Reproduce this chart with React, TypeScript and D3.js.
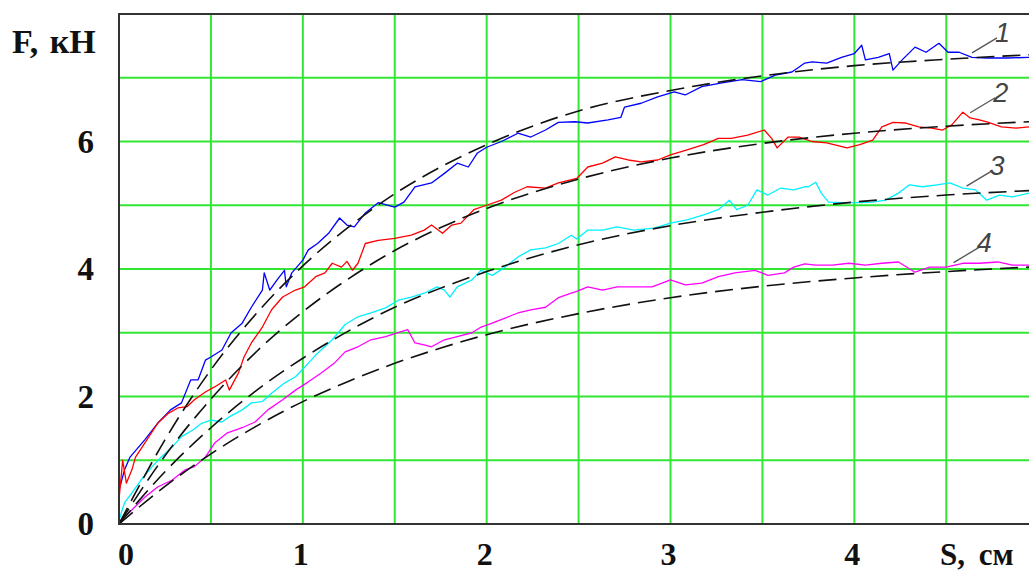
import React from "react";
import * as d3 from "d3";

type P = [number, number];

// Measured force curves (S, cm ; F, kN)
const curve1: P[] = [[0,0.53],[0.03,0.85],[0.06,1.05],[0.14,1.32],[0.21,1.58],[0.28,1.79],[0.34,1.9],[0.39,2.26],[0.43,2.26],[0.47,2.57],[0.5,2.62],[0.56,2.73],[0.61,3.0],[0.67,3.15],[0.72,3.4],[0.78,3.67],[0.79,3.94],[0.82,3.67],[0.86,3.83],[0.9,3.98],[0.91,3.72],[0.94,3.94],[1.0,4.14],[1.03,4.3],[1.08,4.4],[1.14,4.56],[1.2,4.8],[1.24,4.69],[1.28,4.66],[1.34,4.88],[1.41,5.04],[1.5,4.97],[1.55,5.05],[1.61,5.29],[1.7,5.35],[1.77,5.5],[1.84,5.66],[1.9,5.6],[1.95,5.82],[2.0,5.91],[2.08,6.0],[2.17,6.13],[2.24,6.07],[2.32,6.18],[2.39,6.3],[2.48,6.31],[2.55,6.29],[2.66,6.34],[2.73,6.38],[2.75,6.54],[2.84,6.6],[2.93,6.7],[3.02,6.78],[3.08,6.73],[3.17,6.86],[3.28,6.92],[3.39,6.97],[3.49,6.94],[3.57,7.04],[3.66,7.09],[3.7,7.17],[3.73,7.23],[3.77,7.25],[3.85,7.23],[3.93,7.32],[4.0,7.38],[4.04,7.51],[4.06,7.28],[4.13,7.32],[4.19,7.38],[4.21,7.12],[4.26,7.28],[4.33,7.48],[4.39,7.4],[4.46,7.54],[4.51,7.4],[4.57,7.4],[4.64,7.32],[4.72,7.31],[4.83,7.31],[4.95,7.32]];
const curve2: P[] = [[0,0.38],[0.02,1.0],[0.04,0.64],[0.07,0.85],[0.09,1.05],[0.14,1.27],[0.21,1.58],[0.27,1.74],[0.32,1.82],[0.37,1.84],[0.41,1.95],[0.47,2.07],[0.52,2.15],[0.58,2.26],[0.6,2.1],[0.65,2.37],[0.68,2.62],[0.72,2.84],[0.78,3.09],[0.83,3.36],[0.89,3.56],[0.96,3.67],[1.01,3.72],[1.07,3.88],[1.12,3.94],[1.16,4.09],[1.21,4.03],[1.24,4.12],[1.27,3.98],[1.3,4.09],[1.34,4.4],[1.41,4.45],[1.5,4.48],[1.59,4.53],[1.66,4.61],[1.7,4.69],[1.76,4.56],[1.81,4.69],[1.86,4.72],[1.93,4.93],[2.0,5.0],[2.08,5.08],[2.15,5.2],[2.22,5.29],[2.32,5.27],[2.39,5.35],[2.49,5.42],[2.55,5.6],[2.63,5.66],[2.7,5.76],[2.77,5.71],[2.84,5.68],[2.93,5.71],[3.0,5.79],[3.09,5.87],[3.18,5.95],[3.26,6.05],[3.33,6.05],[3.42,6.1],[3.51,6.18],[3.55,6.05],[3.58,5.9],[3.64,6.07],[3.7,6.07],[3.77,6.0],[3.85,5.98],[3.96,5.9],[4.03,5.95],[4.1,6.02],[4.15,6.23],[4.21,6.3],[4.28,6.29],[4.35,6.23],[4.42,6.21],[4.48,6.18],[4.53,6.26],[4.59,6.46],[4.63,6.37],[4.68,6.34],[4.73,6.3],[4.8,6.23],[4.88,6.21],[4.95,6.23]];
const curve3: P[] = [[0,0.06],[0.03,0.33],[0.07,0.49],[0.12,0.69],[0.18,0.9],[0.23,1.05],[0.29,1.21],[0.34,1.37],[0.4,1.47],[0.45,1.58],[0.5,1.63],[0.56,1.6],[0.6,1.68],[0.67,1.79],[0.72,1.9],[0.78,1.92],[0.83,2.05],[0.9,2.21],[0.96,2.31],[1.01,2.46],[1.08,2.68],[1.16,2.89],[1.23,3.13],[1.3,3.25],[1.37,3.31],[1.45,3.39],[1.52,3.51],[1.59,3.56],[1.66,3.62],[1.73,3.72],[1.77,3.67],[1.8,3.56],[1.84,3.72],[1.92,3.83],[1.97,3.98],[2.03,3.9],[2.1,4.03],[2.17,4.19],[2.24,4.3],[2.32,4.33],[2.39,4.4],[2.46,4.53],[2.49,4.47],[2.55,4.61],[2.63,4.61],[2.71,4.66],[2.8,4.61],[2.91,4.64],[3.0,4.72],[3.09,4.77],[3.18,4.85],[3.26,4.93],[3.32,5.08],[3.36,4.93],[3.42,5.0],[3.47,5.24],[3.53,5.16],[3.6,5.27],[3.67,5.24],[3.73,5.29],[3.75,5.29],[3.79,5.36],[3.82,5.19],[3.86,5.05],[3.93,5.04],[4.03,5.04],[4.1,5.05],[4.17,5.08],[4.24,5.19],[4.3,5.32],[4.37,5.29],[4.45,5.32],[4.52,5.35],[4.59,5.27],[4.66,5.24],[4.72,5.08],[4.79,5.16],[4.86,5.13],[4.95,5.19]];
const curve4: P[] = [[0,0.03],[0.07,0.22],[0.14,0.42],[0.21,0.58],[0.29,0.69],[0.36,0.85],[0.41,0.9],[0.47,1.05],[0.52,1.27],[0.59,1.43],[0.67,1.51],[0.74,1.6],[0.81,1.79],[0.89,1.95],[0.96,2.1],[1.03,2.23],[1.1,2.37],[1.17,2.52],[1.23,2.7],[1.3,2.78],[1.37,2.89],[1.45,2.94],[1.54,3.02],[1.57,3.05],[1.61,2.84],[1.66,2.81],[1.7,2.78],[1.77,2.89],[1.84,2.94],[1.92,3.0],[1.97,3.09],[2.03,3.15],[2.1,3.23],[2.17,3.31],[2.24,3.36],[2.32,3.4],[2.39,3.55],[2.46,3.62],[2.49,3.65],[2.55,3.72],[2.63,3.67],[2.71,3.72],[2.8,3.72],[2.9,3.72],[3.0,3.83],[3.08,3.75],[3.17,3.78],[3.26,3.88],[3.35,3.94],[3.46,3.98],[3.53,3.9],[3.62,3.94],[3.67,4.03],[3.73,4.08],[3.79,4.06],[3.88,4.06],[3.97,4.09],[4.06,4.06],[4.15,4.09],[4.24,4.11],[4.33,3.95],[4.41,4.03],[4.5,4.03],[4.59,4.09],[4.68,4.09],[4.78,4.11],[4.86,4.06],[4.95,4.06]];

// Fitted (dashed) curves
const fitS: number[] = [0, 0.25, 0.5, 0.75, 1, 1.25, 1.5, 1.75, 2, 2.5, 3, 3.5, 4, 4.5, 4.95];
const fit1: number[] = [0, 1.32, 2.42, 3.31, 4.05, 4.66, 5.18, 5.6, 5.95, 6.48, 6.8, 7.03, 7.19, 7.29, 7.36];
const fit2: number[] = [0, 1.07, 1.96, 2.71, 3.33, 3.85, 4.29, 4.65, 4.95, 5.41, 5.74, 5.97, 6.13, 6.24, 6.31];
const fit3: number[] = [0, 0.82, 1.51, 2.1, 2.6, 3.03, 3.4, 3.7, 3.96, 4.38, 4.68, 4.89, 5.05, 5.16, 5.23];
const fit4: number[] = [0, 0.59, 1.1, 1.54, 1.92, 2.24, 2.52, 2.76, 2.97, 3.3, 3.55, 3.73, 3.86, 3.96, 4.03];

const yTicks: number[] = [0, 2, 4, 6];
const xTicks: number[] = [0, 1, 2, 3, 4];
const yGrid: number[] = [1, 2, 3, 4, 5, 6, 7];
const xGrid: number[] = [0.5, 1, 1.5, 2, 2.5, 3, 3.5, 4, 4.5];
const seriesColors: string[] = ["#0000ff", "#ff0000", "#00f0ff", "#ff00ff"];
const curveLabels: string[] = ["1", "2", "3", "4"];
const labelAnchors: P[] = [[4.64, 7.39], [4.63, 6.45], [4.61, 5.3], [4.54, 4.1]];

export default function App() {
  const W = 1029, H = 573;
  const x = d3.scaleLinear().domain([0, 4.95]).range([119, 1029]);
  const y = d3.scaleLinear().domain([0, 8]).range([524, 14]);
  const line = d3.line<P>().x(d => x(d[0])).y(d => y(d[1]));
  const smooth = d3.line<P>().x(d => x(d[0])).y(d => y(d[1])).curve(d3.curveMonotoneX);
  const curves = [curve1, curve2, curve3, curve4];
  const fits = [fit1, fit2, fit3, fit4].map(f => fitS.map((s, i) => [s, f[i]] as P));
  const font = "'Liberation Serif', 'Times New Roman', serif";
  return (
    <svg width={W} height={H} style={{ position: "absolute", left: 0, top: 0, background: "#fff" }}>
      <defs>
        <clipPath id="plot">
          <rect x={x(0)} y={y(8)} width={x(4.95) - x(0)} height={y(0) - y(8)} />
        </clipPath>
      </defs>
      <rect x={0} y={0} width={W} height={H} fill="#fff" />
      {yGrid.map(v => (
        <line key={"hy" + v} x1={x(0)} x2={x(4.95)} y1={y(v)} y2={y(v)} stroke="#33e633" strokeWidth={2} />
      ))}
      {xGrid.map(v => (
        <line key={"vx" + v} x1={x(v)} x2={x(v)} y1={y(0)} y2={y(8)} stroke="#33e633" strokeWidth={2} />
      ))}
      <g clipPath="url(#plot)">
        {curves.map((c, i) => (
          <path key={"c" + i} d={line(c) || ""} fill="none" stroke={seriesColors[i]} strokeWidth={1.3} strokeLinejoin="round" />
        ))}
        {fits.map((f, i) => (
          <path key={"f" + i} d={smooth(f) || ""} fill="none" stroke="#111" strokeWidth={1.6} strokeDasharray="18 8" />
        ))}
      </g>
      {/* frame */}
      <line x1={x(0)} x2={x(0)} y1={y(8)} y2={y(0) + 1} stroke="#333" strokeWidth={2} />
      <line x1={x(0) - 1} x2={W} y1={y(0)} y2={y(0)} stroke="#333" strokeWidth={2} />
      <line x1={x(0) - 1} x2={W} y1={y(8)} y2={y(8)} stroke="#333" strokeWidth={2} />
      {/* curve labels */}
      {labelAnchors.map((a, i) => {
        const ax = x(a[0]), ay = y(a[1]);
        return (
          <g key={"lab" + i}>
            <line x1={ax} y1={ay} x2={ax + 25} y2={ay - 15} stroke="#555" strokeWidth={1.3} />
            <text x={ax + 23} y={ay - 11} fontFamily="'Liberation Sans', Arial, sans-serif" fontStyle="italic" fontSize={27} fill="#444">{curveLabels[i]}</text>
          </g>
        );
      })}
      {/* y tick labels */}
      {yTicks.map(v => (
        <text key={"yt" + v} x={94} y={y(v) + 11} textAnchor="end" fontFamily={font} fontWeight="bold" fontSize={33} fill="#111">{v}</text>
      ))}
      {xTicks.map(v => (
        <text key={"xt" + v} x={x(v) + (v === 0 ? 7 : -2)} y={565} textAnchor="middle" fontFamily={font} fontWeight="bold" fontSize={32} fill="#111">{v}</text>
      ))}
      <text x={12} y={53} fontFamily={font} fontWeight="bold" fontSize={34} fill="#111" wordSpacing={3}>F, кН</text>
      <text x={940} y={565} fontFamily={font} fontWeight="bold" fontSize={31} fill="#111" wordSpacing={6}>S, см</text>
    </svg>
  );
}
